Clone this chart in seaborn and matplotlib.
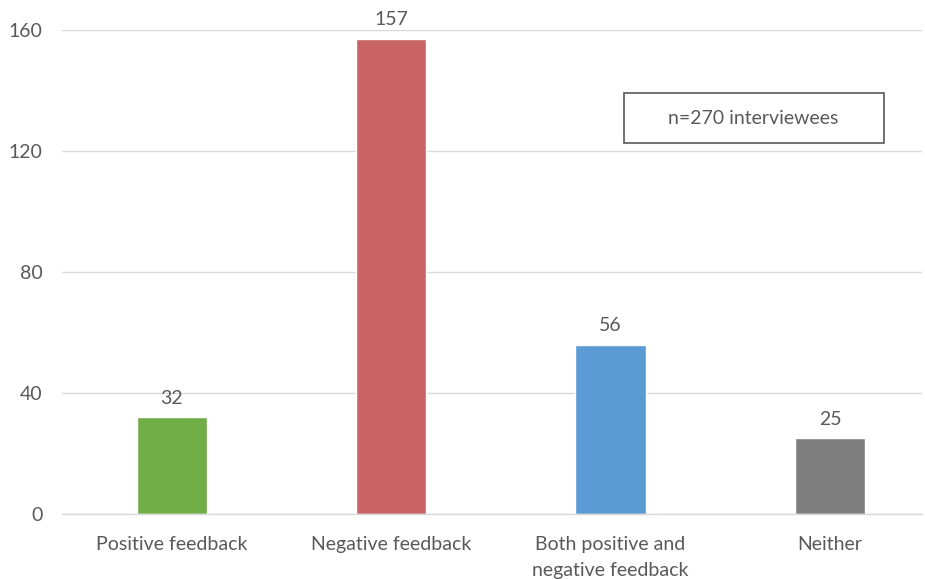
import pandas as pd
import matplotlib.pyplot as plt
import seaborn as sns
from matplotlib.patches import Rectangle

# Daten
categories = ['Positive feedback', 'Negative feedback', 'Both positive and\nnegative feedback', 'Neither']
counts = [32, 157, 56, 25]
colors = ['#70AD47', '#C96464', '#5B9BD5', '#7F7F7F']
yticks = [0, 40, 80, 120, 160]
note = 'n=270 interviewees'

df = pd.DataFrame({'Category': categories, 'Count': counts})

sns.set_style('white')
plt.rcParams['font.family'] = ['Lato', 'DejaVu Sans']
text_color = '#595959'

fig = plt.figure(figsize=(9.25, 5.79), dpi=100)
ax = fig.add_axes([0.067, 0.1123, 0.93, 0.8359])

sns.barplot(data=df, x='Category', y='Count', hue='Category', palette=colors,
            width=0.32, legend=False, ax=ax, saturation=1)

# Werte ueber den Balken
for i, v in enumerate(counts):
    ax.text(i, v + 3.5, str(v), ha='center', va='bottom', fontsize=14,
            color=text_color, clip_on=False)

ax.set_ylim(0, 160)
ax.set_xlim(-0.5, 3.42)
ax.set_yticks(yticks)
ax.set_yticklabels([str(t) for t in yticks])
ax.tick_params(axis='both', length=0, labelsize=14, labelcolor=text_color)
ax.tick_params(axis='y', pad=14)
ax.tick_params(axis='x', pad=16)
for lbl in ax.get_xticklabels():
    lbl.set_linespacing(1.6)
ax.set_xlabel('')
ax.set_ylabel('')

ax.yaxis.grid(True, color='#D9D9D9', linewidth=1)
ax.set_axisbelow(True)
for s in ['left', 'right', 'top']:
    ax.spines[s].set_visible(False)
ax.spines['bottom'].set_color('#D9D9D9')
ax.spines['bottom'].set_linewidth(1)

# Kasten mit n
ax.add_patch(Rectangle((0.653, 0.7665), 0.302, 0.103, transform=ax.transAxes,
                       facecolor='white', edgecolor=text_color, linewidth=1.2, zorder=5))
ax.text(0.804, 0.818, note, transform=ax.transAxes, ha='center', va='center',
        fontsize=14, color=text_color, zorder=6)

fig.savefig('out.png', dpi=100)
